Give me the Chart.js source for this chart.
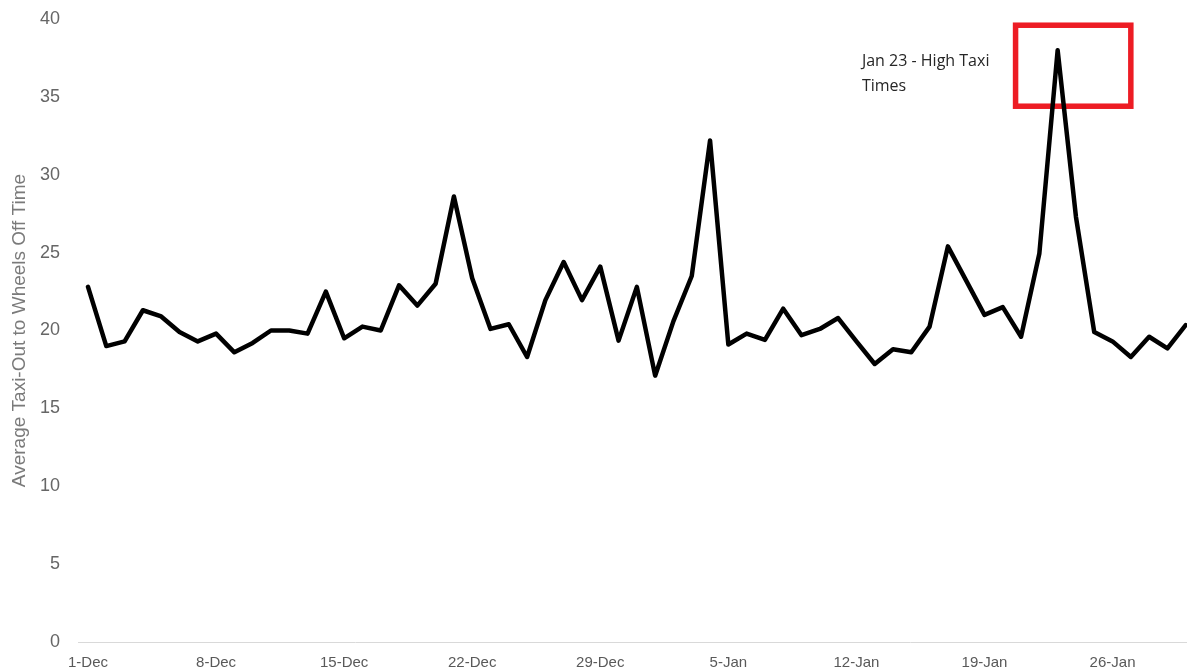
<!DOCTYPE html>
<html lang="en">
<head>
  <meta charset="UTF-8">
  <title>Average Taxi-Out to Wheels Off Time</title>
  <script src="https://cdn.jsdelivr.net/npm/chart.js"></script>
  <style>
    body { margin: 0; background: #fff; }
    #wrap { width: 1187px; height: 672px; }
  </style>
</head>
<body>
  <div id="wrap">
    <canvas id="taxiChart" width="1187" height="672"></canvas>
  </div>

  <script>
    // daily average taxi-out time, 1-Dec .. 30-Jan (one value per day)
    const taxiOut = [
      22.8, 19.0, 19.3, 21.3, 20.9, 19.9, 19.3, 19.8, 18.6, 19.2,
      20.0, 20.0, 19.8, 22.5, 19.5, 20.25, 20.0, 22.9, 21.6, 23.0,
      28.6, 23.35, 20.1, 20.4, 18.3, 21.95, 24.4, 21.95, 24.1, 19.35,
      22.8, 17.1, 20.6, 23.5, 32.2, 19.1, 19.8, 19.4, 21.4, 19.7,
      20.1, 20.8, 19.3, 17.85, 18.8, 18.6, 20.25, 25.4, 23.2, 21.0,
      21.5, 19.6, 24.95, 38.0, 27.3, 19.9, 19.3, 18.3, 19.6, 18.85,
      20.35
    ];
    const tickDays = [0, 7, 14, 21, 28, 35, 42, 49, 56];
    const tickLabels = ['1-Dec', '8-Dec', '15-Dec', '22-Dec', '29-Dec', '5-Jan', '12-Jan', '19-Jan', '26-Jan'];
    const noteLines = ['Jan 23 - High Taxi', 'Times'];
    const highDay = 53; // Jan 23

    // red box + note, placed in data units
    const notePlugin = {
      id: 'note',
      beforeDatasetsDraw(chart) {
        const { ctx, scales: { x, y } } = chart;
        const x0 = x.getPixelForValue(highDay - 2.3), x1 = x.getPixelForValue(highDay + 4.0);
        const y0 = y.getPixelForValue(39.6), y1 = y.getPixelForValue(34.4);
        ctx.save();
        ctx.strokeStyle = '#ed1c24';
        ctx.lineWidth = 5.5;
        ctx.strokeRect(x0, y0, x1 - x0, y1 - y0);
        ctx.fillStyle = '#262626';
        ctx.font = '16px "Open Sans", sans-serif';
        ctx.textBaseline = 'middle';
        const tx = x.getPixelForValue(highDay - 10.7);
        ctx.fillText(noteLines[0], tx, y.getPixelForValue(37.25));
        ctx.fillText(noteLines[1], tx, y.getPixelForValue(35.7));
        ctx.restore();
      }
    };

    const ctx = document.getElementById('taxiChart').getContext('2d');
    new Chart(ctx, {
      type: 'line',
      data: {
        datasets: [{
          data: taxiOut.map((v, i) => ({ x: i, y: v })),
          borderColor: '#000',
          borderWidth: 4.5,
          borderJoinStyle: 'round',
          borderCapStyle: 'round',
          pointRadius: 0,
          tension: 0,
          fill: false
        }]
      },
      options: {
        responsive: false,
        animation: false,
        layout: { padding: { top: 19, right: 0, bottom: 0, left: 0 } },
        plugins: { legend: { display: false }, tooltip: { enabled: false } },
        scales: {
          x: {
            type: 'linear',
            min: -0.547,
            max: 60.07,
            grid: { display: false, drawTicks: false },
            border: { display: true, color: '#d9d9d9', width: 1 },
            afterBuildTicks: (scale) => { scale.ticks = tickDays.map(v => ({ value: v })); },
            afterFit: (scale) => { scale.height = 30; scale.paddingLeft = 0; scale.paddingRight = 0; },
            ticks: {
              autoSkip: false,
              maxRotation: 0,
              padding: 12,
              color: '#595959',
              font: { family: '"Liberation Sans", Arial, sans-serif', size: 15 },
              callback: (v) => tickLabels[tickDays.indexOf(v)]
            }
          },
          y: {
            min: 0,
            max: 40,
            grid: { display: false, drawTicks: false },
            border: { display: false },
            afterFit: (scale) => { scale.width = 78; scale.paddingTop = 0; scale.paddingBottom = 0; },
            ticks: {
              stepSize: 5,
              padding: 18,
              color: '#666666',
              font: { family: '"Liberation Sans", Arial, sans-serif', size: 18 }
            },
            title: {
              display: true,
              text: 'Average Taxi-Out to Wheels Off Time',
              color: '#7a7a7a',
              padding: { top: 8, bottom: 0 },
              font: { family: '"Liberation Sans", Arial, sans-serif', size: 19 }
            }
          }
        }
      },
      plugins: [notePlugin]
    });
  </script>
</body>
</html>
